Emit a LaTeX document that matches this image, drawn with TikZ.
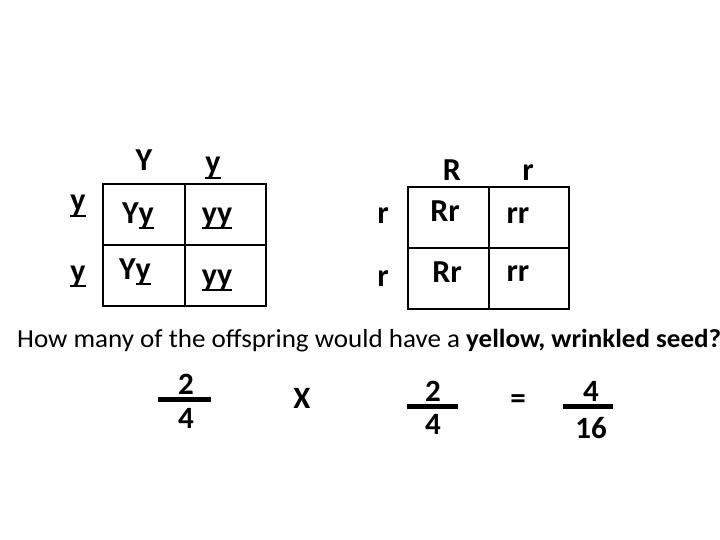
\documentclass[tikz,border=0pt]{standalone}
\usepackage{fontspec}
\setmainfont{Carlito}
\usetikzlibrary{positioning}

% underlined letters of the punnett squares
\newcommand{\undery}[1]{\setbox0\hbox{#1}\rlap{\rule[-0.2em]{\wd0}{0.09em}}\box0}

\begin{document}
\begin{tikzpicture}[x=1pt,y=-1pt,
    allele/.style={font=\fontsize{32}{36}\selectfont\bfseries, inner sep=0pt, anchor=base},
    num/.style={font=\fontsize{31}{35}\selectfont\bfseries, inner sep=0pt, anchor=base},
    gridline/.style={line width=2pt},
    fracbar/.style={line width=5pt}]

      \useasboundingbox (0,0) rectangle (720,540);

      % first square: Y / y
      \draw[gridline] (103,184) rectangle (266,306);
      \draw[gridline] (185,184) -- (185,306);
      \draw[gridline] (103,245) -- (266,245);
      \node[allele] (hY)  at (144,171) {Y};
      \node[allele] (hy)  at (213,173) {\undery{y}};
      \node[allele] (ly1) at (78,211) {\undery{y}};
      \node[allele] (ly2) at (78,281) {\undery{y}};
      \node[allele] (c11) at (138,223) {Y\undery{y}};
      \node[allele] (c12) at (217,223) {\undery{yy}};
      \node[allele] (c21) at (135,279) {Y\undery{y}};
      \node[allele] (c22) at (217,285) {\undery{yy}};

      % second square: R / r
      \draw[gridline] (408,187) rectangle (569,309);
      \draw[gridline] (489,187) -- (489,309);
      \draw[gridline] (408,248) -- (569,248);
      \node[allele] (hR)  at (452,181) {R};
      \node[allele] (hr)  at (528,181) {r};
      \node[allele] (lr1) at (383,224) {r};
      \node[allele] (lr2) at (383,286) {r};
      \node[allele] (d11) at (445,222) {Rr};
      \node[allele] (d12) at (518,224) {rr};
      \node[allele] (d21) at (447,282) {Rr};
      \node[allele] (d22) at (518,281) {rr};

      % the question
      \node[anchor=base west, inner sep=0pt, xscale=1.04, font=\fontsize{26}{30}\selectfont] (quest) at (17,347)
        {How many of the offspring would have a \textbf{yellow, wrinkled seed?}};

      % 2/4 x 2/4 = 4/16
      \draw[fracbar] (158,399) -- (211,399);
      \node[num] (n1) at (186,394) {2};
      \node[num] (m1) at (186,428) {4};
      \node[num] (times) at (302,408) {X};
      \draw[fracbar] (407,406) -- (458,406);
      \node[num] (n2) at (433,401) {2};
      \node[num] (m2) at (433,434) {4};
      \node[num] (eq) at (518,408) {=};
      \draw[fracbar] (563,406) -- (613,406);
      \node[num] (n3) at (591,401) {4};
      \node[num] (m3) at (591,438) {16};

\end{tikzpicture}
\end{document}
